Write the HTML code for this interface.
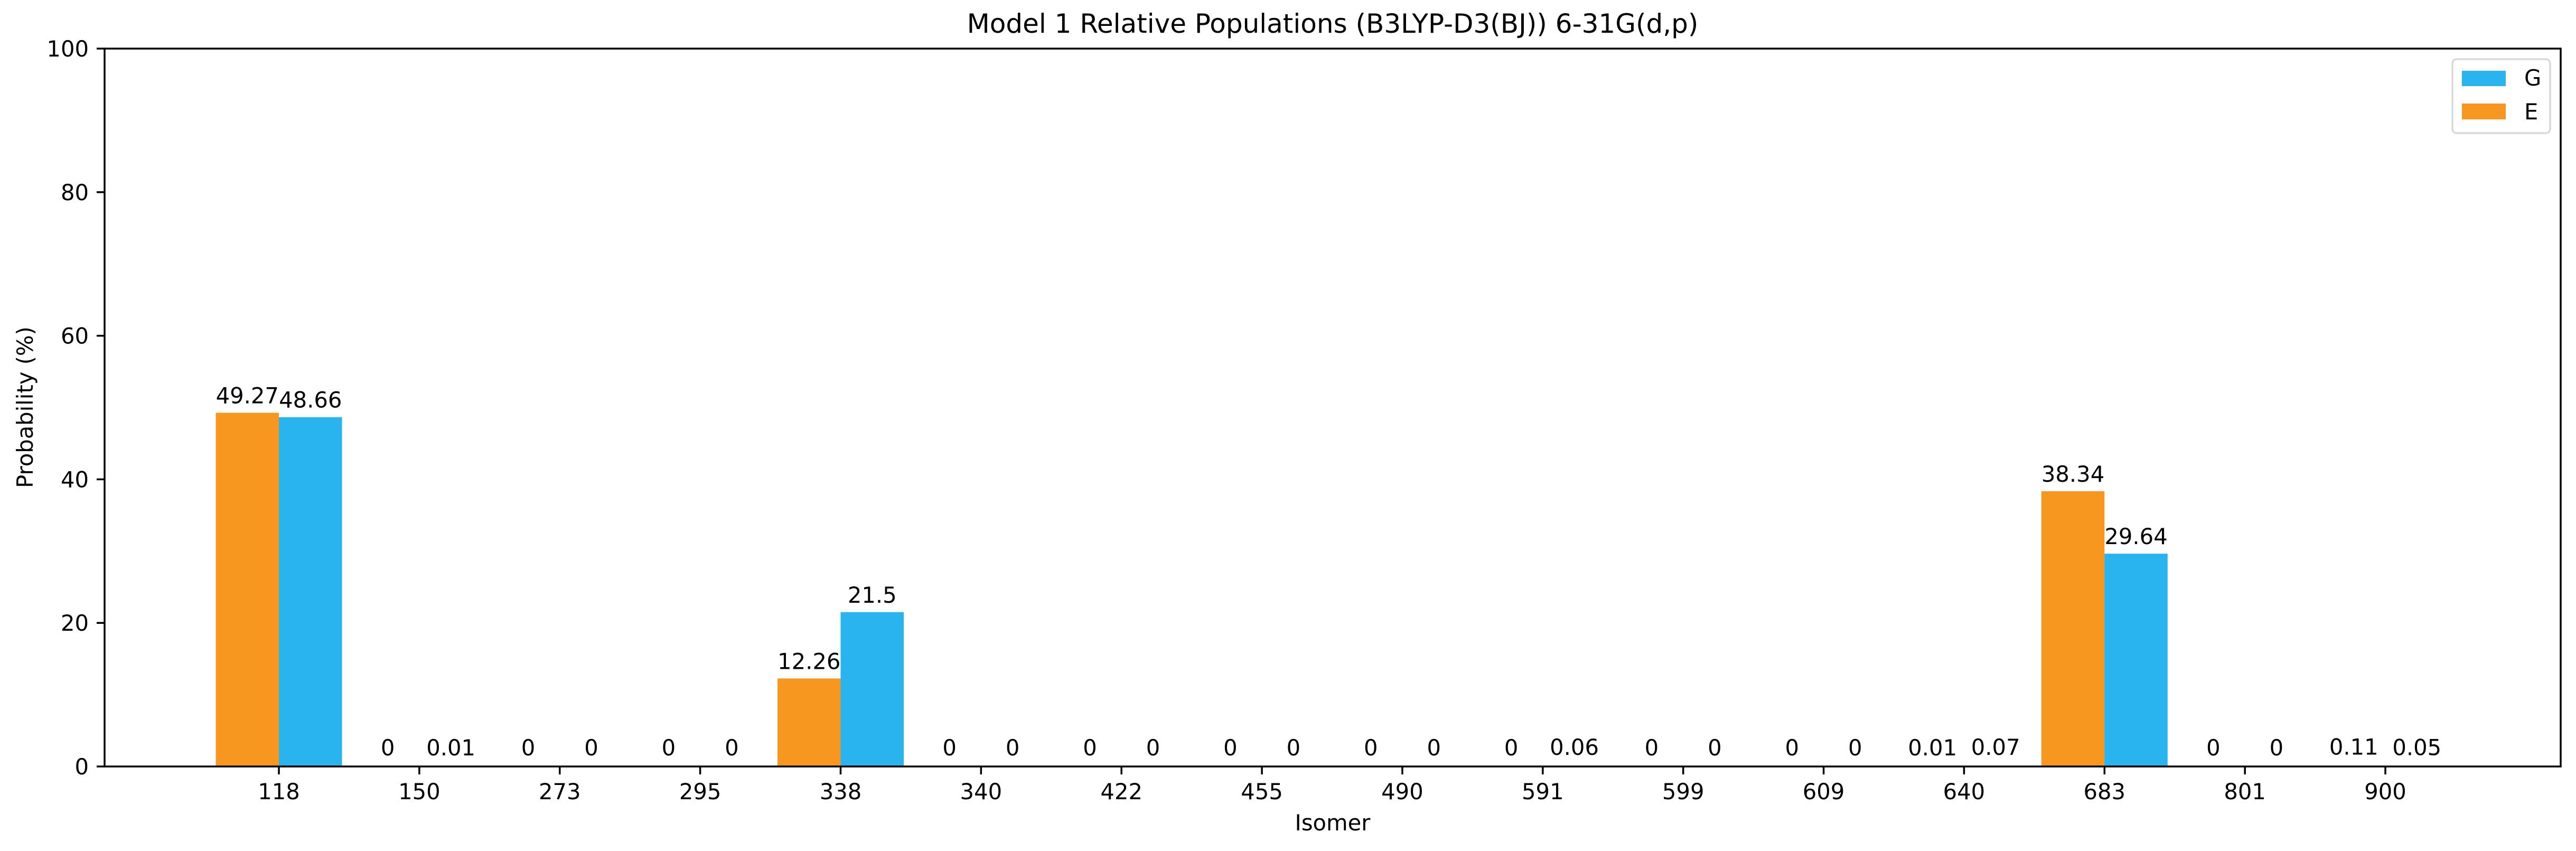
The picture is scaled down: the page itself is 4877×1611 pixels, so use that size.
<!DOCTYPE html>
<html><head><meta charset="utf-8"><style>
html,body{margin:0;padding:0;background:#fff}
svg{display:block;font-family:"DejaVu Sans","Liberation Sans",sans-serif}
</style></head><body>
<svg id="chart" width="4877" height="1611" viewBox="0 0 4877 1611" xmlns="http://www.w3.org/2000/svg">
<rect width="4877" height="1611" fill="#fff"/>
<text x="2523" y="62" font-size="50" text-anchor="middle">Model 1 Relative Populations (B3LYP-D3(BJ)) 6-31G(d,p)</text>
<g id="bars"></g>
<g id="labels"></g>
<g id="xticks"></g>
<g id="yticks"></g>
<rect x="198" y="92" width="4650" height="1359" fill="none" stroke="#000" stroke-width="3.5"/>
<text x="2523" y="1572" font-size="41.7" text-anchor="middle">Isomer</text>
<text x="0" y="0" font-size="41.7" text-anchor="middle" transform="translate(62,771) rotate(-90)">Probability (%)</text>
<g>
<rect x="4643" y="112" width="185" height="140" rx="8" fill="#fff" stroke="#d9d9d9" stroke-width="3.5"/>
<rect x="4661" y="134" width="83" height="29" fill="#29b3ef"/>
<text x="4779" y="162" font-size="41.7">G</text>
<rect x="4661" y="196" width="83" height="30" fill="#f7971f"/>
<text x="4779" y="226" font-size="41.7">E</text>
</g>
</svg>
<script>
const categories = ["118","150","273","295","338","340","422","455","490","591","599","609","640","683","801","900"];
const eValues = [49.27,0,0,0,12.26,0,0,0,0,0,0,0,0.01,38.34,0,0.11];
const gValues = [48.66,0.01,0,0,21.5,0,0,0,0,0.06,0,0,0.07,29.64,0,0.05];
const yTicks = [0,20,40,60,80,100];

const NS = "http://www.w3.org/2000/svg";
const x0 = 528, step = 265.87, barW = 119.5;
const yBase = 1451, yTop = 92, yMax = 100;
function xScale(i){ return x0 + i*step; }
function yScale(v){ return yBase - (v/yMax)*(yBase-yTop); }
function mk(tag, attrs, parent){
  const el = document.createElementNS(NS, tag);
  for (const k in attrs) el.setAttribute(k, attrs[k]);
  parent.appendChild(el);
  return el;
}
const gb = document.getElementById('bars');
const gl = document.getElementById('labels');
const gx = document.getElementById('xticks');
const gy = document.getElementById('yticks');

categories.forEach((c, i) => {
  const cx = xScale(i);
  [[eValues[i], cx - barW, '#f7971f', 'e'], [gValues[i], cx, '#29b3ef', 'g']].forEach(([v, bx, col, s]) => {
    const y = yScale(v);
    const r = mk('rect', {x: bx, y: y, width: barW, height: yBase - y, fill: col}, gb);
    
    
    const t = mk('text', {x: bx + barW/2, y: y - (v < 1 ? 21 : 18), 'font-size': 41.7, 'text-anchor': 'middle'}, gl);
    t.textContent = String(v);
    
    
  });
  const tk = mk('line', {x1: cx, x2: cx, y1: yBase, y2: yBase + 15, stroke: '#000', 'stroke-width': 3.5}, gx);
  
  
  const tl = mk('text', {x: cx, y: 1513, 'font-size': 41.7, 'text-anchor': 'middle'}, gx);
  tl.textContent = c;
  
  
});

yTicks.forEach(v => {
  const y = yScale(v);
  const tk = mk('line', {x1: 183, x2: 198, y1: y, y2: y, stroke: '#000', 'stroke-width': 3.5}, gy);
  
  
  const tl = mk('text', {x: 168, y: y + 15, 'font-size': 41.7, 'text-anchor': 'end'}, gy);
  tl.textContent = String(v);
  
  
});
</script>
</body></html>
